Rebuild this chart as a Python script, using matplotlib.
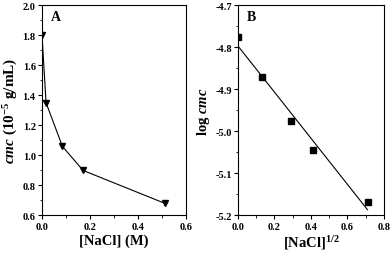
import numpy as np
import matplotlib
matplotlib.use("Agg")
import matplotlib.pyplot as plt
from matplotlib.ticker import MultipleLocator

plt.rcParams['font.family'] = ['Liberation Serif', 'DejaVu Serif']
plt.rcParams['font.weight'] = 'bold'
plt.rcParams['axes.unicode_minus'] = False
plt.rcParams['mathtext.fontset'] = 'custom'
plt.rcParams['mathtext.rm'] = 'Liberation Serif:bold'
plt.rcParams['mathtext.it'] = 'Liberation Serif:italic:bold'
plt.rcParams['mathtext.bf'] = 'Liberation Serif:bold'

# Panel A data
nacl_a = [0.0, 0.017, 0.085, 0.171, 0.513]
cmc_a = [1.80, 1.35, 1.06, 0.90, 0.68]

# Panel B data
sqrt_nacl_b = [0.0, 0.13, 0.29, 0.41, 0.715]
logcmc_b = [-4.775, -4.87, -4.975, -5.045, -5.168]
fit_x_end = 0.71

fig = plt.figure(figsize=(3.91, 2.55), dpi=100)
axA = fig.add_axes([0.1074, 0.151, 0.3683, 0.825])
axB = fig.add_axes([0.6087, 0.151, 0.3733, 0.825])

axA.plot(nacl_a, cmc_a, color='black', lw=0.8, marker='v', ms=5, mfc='black', mec='black')
axA.set_xlim(0, 0.6)
axA.set_ylim(0.6, 2.0)
axA.xaxis.set_major_locator(MultipleLocator(0.2))
axA.xaxis.set_minor_locator(MultipleLocator(0.1))
axA.yaxis.set_major_locator(MultipleLocator(0.2))
axA.yaxis.set_minor_locator(MultipleLocator(0.1))
axA.set_xlabel('[NaCl] (M)', fontsize=10.5, fontweight='bold', labelpad=2)
axA.set_ylabel(r'$\it{cmc}$ (10$^{-5}$ g/mL)', fontsize=11, fontweight='bold', labelpad=2)
axA.text(0.06, 0.93, 'A', transform=axA.transAxes, fontsize=10, fontweight='bold')

axB.plot(sqrt_nacl_b, logcmc_b, linestyle='none', marker='s', ms=4, color='black')
coef = np.polyfit(sqrt_nacl_b, logcmc_b, 1)
fx = np.linspace(0, fit_x_end, 50)
axB.plot(fx, np.polyval(coef, fx), color='black', lw=0.8)
axB.set_xlim(0, 0.8)
axB.set_ylim(-5.2, -4.7)
axB.xaxis.set_major_locator(MultipleLocator(0.2))
axB.xaxis.set_minor_locator(MultipleLocator(0.1))
axB.yaxis.set_major_locator(MultipleLocator(0.1))
axB.yaxis.set_minor_locator(MultipleLocator(0.05))
axB.set_xlabel(r'[NaCl]$^{1/2}$', fontsize=10.5, fontweight='bold', labelpad=2)
axB.set_ylabel(r'log $\it{cmc}$', fontsize=10.5, fontweight='bold', labelpad=2)
axB.text(0.06, 0.93, 'B', transform=axB.transAxes, fontsize=10, fontweight='bold')

for ax in (axA, axB):
    ax.tick_params(which='major', direction='out', length=3, width=0.8, labelsize=7.5, pad=1.5)
    ax.tick_params(which='minor', direction='out', length=1.8, width=0.6)
    for s in ax.spines.values():
        s.set_linewidth(0.8)
    for lab in ax.get_xticklabels() + ax.get_yticklabels():
        lab.set_fontweight('bold')

fig.savefig('out.png', dpi=100)
